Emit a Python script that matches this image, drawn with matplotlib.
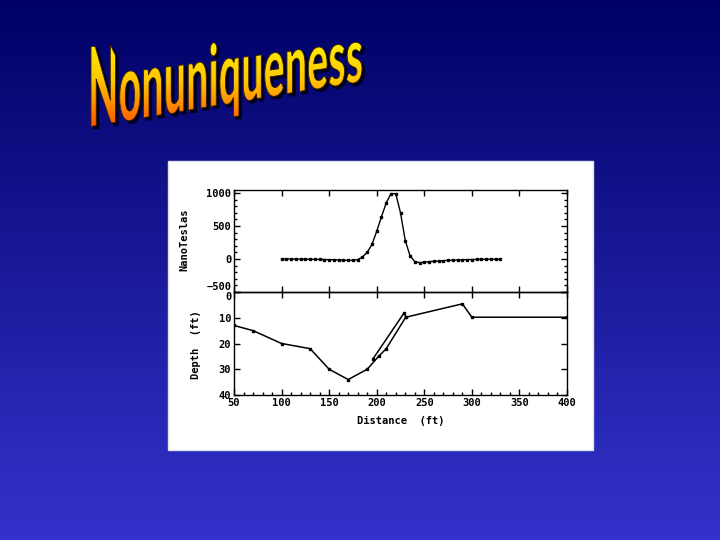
import numpy as np
import matplotlib
matplotlib.use("Agg")
import matplotlib.pyplot as plt
from matplotlib.textpath import TextPath
from matplotlib.font_manager import FontProperties
from matplotlib.patches import PathPatch, Rectangle
from matplotlib.path import Path
from matplotlib.ticker import MultipleLocator

TITLE = "Nonuniqueness"

# magnetic profile (nT) along distance (ft)
mag_x = [100, 105, 110, 115, 120, 125, 130, 135, 140, 145, 150, 155, 160, 165,
         170, 175, 180, 185, 190, 195, 200, 205, 210, 215, 220, 225, 230, 235,
         240, 245, 250, 255, 260, 265, 270, 275, 280, 285, 290, 295, 300, 305,
         310, 315, 320, 325, 330]
mag_nt = [0, 0, 0, 0, -2, -3, -4, -5, -6, -8, -10, -12, -15, -18,
          -20, -20, -10, 30, 100, 220, 420, 640, 850, 990, 990, 700, 280, 50,
          -40, -55, -50, -40, -35, -30, -25, -20, -18, -15, -12, -10, -8, -6,
          -5, -4, -3, -2, -2]

# depth model (ft)
depth_a_x = [50, 70, 100, 130, 150, 170, 190, 202, 210, 230.5, 290, 300, 400]
depth_a_y = [13, 15, 20, 22, 30, 34, 30, 25, 22, 9.8, 4.6, 9.8, 9.8]
depth_b_x = [196, 229, 230.5]
depth_b_y = [26, 8, 9.8]

mag_yticks = [-500, 0, 500, 1000]
depth_yticks = [0, 10, 20, 30, 40]
dist_xticks = [50, 100, 150, 200, 250, 300, 350, 400]

fig = plt.figure(figsize=(7.2, 5.4), dpi=100)

# slide background
bg = fig.add_axes([0, 0, 1, 1])
bg.axis("off")
g = np.linspace(0, 1, 256)[:, None, None]
top_c = np.array([0.0, 0.0, 0.40])
bot_c = np.array([0.20, 0.20, 0.80])
bg.imshow(top_c + (bot_c - top_c) * g, extent=(0, 720, 540, 0), aspect="auto", zorder=0)

# word-art title, bent into a perspective that shrinks to the right
fp = FontProperties(family="Lato", weight="black")
tp = TextPath((0, 0), TITLE, size=1, prop=fp)
xh = TextPath((0, 0), "x", size=1, prop=fp).get_extents().y1
cap = TextPath((0, 0), "N", size=1, prop=fp).get_extents().y1
vx, vy = tp.vertices.T
t = (vx - vx.min()) / (vx.max() - vx.min())
X = 88 + t * (362 - 88)
yb = 127 + t * (81 - 127)
yx = 77 + t * (42 - 77)
ratio = np.where(t < 0.09, 0.625, 0.73)
ycap = yb + (yx - yb) / ratio
Y = np.where(vy <= xh, yb + vy / xh * (yx - yb),
             yx + (vy - xh) / (cap - xh) * (ycap - yx))

shadow = PathPatch(Path(np.column_stack([X + 2.5, Y + 2.5]), tp.codes),
                   fc="#000020", ec="#000020", lw=1, zorder=2)
bg.add_patch(shadow)
rows = np.linspace(34, 132, 200)
tg = np.stack([np.interp(rows, [38, 80, 127], [1.0, 1.0, 1.0]),
               np.interp(rows, [38, 80, 127], [0.95, 0.78, 0.33]),
               np.interp(rows, [38, 80, 127], [0.0, 0.0, 0.0])], axis=-1)[:, None, :]
im = bg.imshow(tg, extent=(80, 370, 132, 34), aspect="auto", zorder=3)
outline = PathPatch(Path(np.column_stack([X, Y]), tp.codes),
                    fc="none", ec="#3a2000", lw=0.6, zorder=4)
bg.add_patch(outline)
im.set_clip_path(outline)

# white picture panel
bg.add_patch(Rectangle((168, 161), 425, 289, fc="white", ec="#dde4ee", lw=1, zorder=1))
bg.set_xlim(0, 720)
bg.set_ylim(540, 0)

lab_font = {"family": "DejaVu Sans Mono", "weight": "bold", "size": 7.5}

ax1 = fig.add_axes([234 / 720, 1 - 292 / 540, 333 / 720, 102 / 540])
ax2 = fig.add_axes([234 / 720, 1 - 395 / 540, 333 / 720, 103 / 540])

ax1.plot(mag_x, mag_nt, color="black", lw=1, marker="s", ms=2)
ax1.set_xlim(50, 400)
ax1.set_ylim(-500, 1045)
ax1.set_yticks(mag_yticks)
ax1.yaxis.set_minor_locator(MultipleLocator(100))
ax1.set_xticks(dist_xticks)
ax1.set_xticklabels([])
ax1.set_ylabel("NanoTeslas", fontdict=lab_font)
ax1.yaxis.set_label_coords(-0.135, 0.51)

ax2.plot(depth_a_x, depth_a_y, color="black", lw=1.1, marker="s", ms=2)
ax2.plot(depth_b_x, depth_b_y, color="black", lw=1.1, marker="s", ms=2)
ax2.set_xlim(50, 400)
ax2.set_ylim(40, 0)
ax2.set_yticks(depth_yticks)
ax2.set_xticks(dist_xticks)
ax2.xaxis.set_minor_locator(MultipleLocator(10))
ax2.set_ylabel("Depth  (ft)", fontdict=lab_font)
ax2.yaxis.set_label_coords(-0.099, 0.485)
ax2.set_xlabel("Distance  (ft)", fontdict=lab_font)
ax2.xaxis.set_label_coords(0.5, -0.2)

for ax in (ax1, ax2):
    ax.set_facecolor("none")
    ax.tick_params(which="both", direction="in", top=True, right=True,
                   width=1, pad=2)
    ax.tick_params(which="major", length=4)
    ax.tick_params(which="minor", length=2)
    for lab in ax.get_xticklabels() + ax.get_yticklabels():
        lab.set_fontfamily("DejaVu Sans Mono")
        lab.set_fontweight("bold")
        lab.set_fontsize(7.5)
    for sp in ax.spines.values():
        sp.set_linewidth(1)
ax1.tick_params(axis="x", which="minor", top=False, bottom=False)
ax2.tick_params(axis="x", which="minor", top=False)

# "-500" sits just above the shared edge, the depth "0" just below it
ax1.get_yticklabels()[0].set_verticalalignment("bottom")
ax2.get_yticklabels()[0].set_verticalalignment("top")

fig.savefig("out.png", dpi=100)
